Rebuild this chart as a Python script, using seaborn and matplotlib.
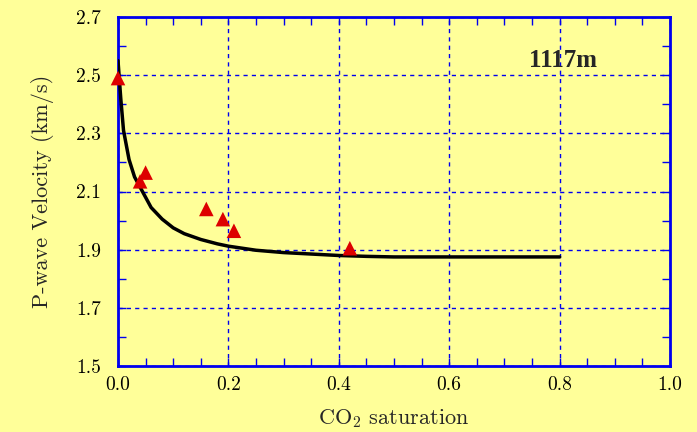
import matplotlib
matplotlib.use("Agg")
import matplotlib.pyplot as plt
import seaborn as sns
import numpy as np
import pandas as pd
from matplotlib.ticker import MultipleLocator

# Data
curve_x = [0.0, 0.005, 0.01, 0.02, 0.03, 0.04, 0.05, 0.06, 0.08, 0.10, 0.12, 0.15, 0.18, 0.20,
           0.25, 0.30, 0.35, 0.40, 0.45, 0.50, 0.60, 0.70, 0.80]
curve_v = [2.55, 2.42, 2.31, 2.21, 2.15, 2.115, 2.08, 2.045, 2.005, 1.975, 1.955, 1.935, 1.92, 1.912,
           1.898, 1.890, 1.885, 1.880, 1.877, 1.875, 1.875, 1.875, 1.875]
meas_x = [0.0, 0.04, 0.05, 0.16, 0.19, 0.21, 0.42]
meas_v = [2.49, 2.135, 2.165, 2.04, 2.005, 1.965, 1.905]
x_ticks = [0.0, 0.2, 0.4, 0.6, 0.8, 1.0]
y_ticks = [1.5, 1.7, 1.9, 2.1, 2.3, 2.5, 2.7]
label_depth = "1117m"

sns.set_style("ticks")
plt.rcParams['font.family'] = ['cmr10', 'DejaVu Serif']
plt.rcParams['mathtext.fontset'] = 'cm'
plt.rcParams['axes.formatter.use_mathtext'] = True

bg = "#FFFF99"
blue = "#0000EE"
fig = plt.figure(figsize=(6.97, 4.32), dpi=100, facecolor=bg)
ax = fig.add_axes([118/697, 1-366/432, (670-118)/697, (366-17)/432])
ax.set_facecolor(bg)

curve = pd.DataFrame({"x": curve_x, "v": curve_v})
meas = pd.DataFrame({"x": meas_x, "v": meas_v})
sns.lineplot(data=curve, x="x", y="v", ax=ax, color="black", linewidth=2.5, zorder=3)
sns.scatterplot(data=meas, x="x", y="v", ax=ax, marker="^", color="#DD0000", s=110,
                edgecolor="none", zorder=4, clip_on=False)

ax.set_xlim(0, 1.0)
ax.set_ylim(1.5, 2.7)
ax.set_xticks(x_ticks)
ax.set_yticks(y_ticks)
ax.set_xticklabels([f"{t:.1f}" for t in x_ticks])
ax.set_yticklabels([f"{t:.1f}" for t in y_ticks])
ax.xaxis.set_minor_locator(MultipleLocator(0.05))
ax.yaxis.set_minor_locator(MultipleLocator(0.1))
ax.tick_params(which="both", direction="in", top=True, right=True, color=blue, labelsize=14,
               labelcolor="black")
ax.tick_params(axis="x", which="major", pad=7)
ax.tick_params(axis="y", which="major", pad=12)
ax.tick_params(which="major", length=6, width=1)
ax.tick_params(which="minor", length=6, width=1)
ax.grid(True, which="major", color=blue, linestyle=(0, (3, 3)), linewidth=1)
for s in ax.spines.values():
    s.set_color(blue)
    s.set_linewidth(2)

ax.set_xlabel(r"CO$_2$ saturation", fontsize=16, labelpad=10)
ax.set_ylabel("P-wave Velocity (km/s)", fontsize=16, labelpad=16)
ax.text(0.745, 2.552, label_depth, fontsize=18, fontweight="bold",
        family=["Liberation Serif"], ha="left", va="center")

fig.savefig("out.png", dpi=100, facecolor=bg)
